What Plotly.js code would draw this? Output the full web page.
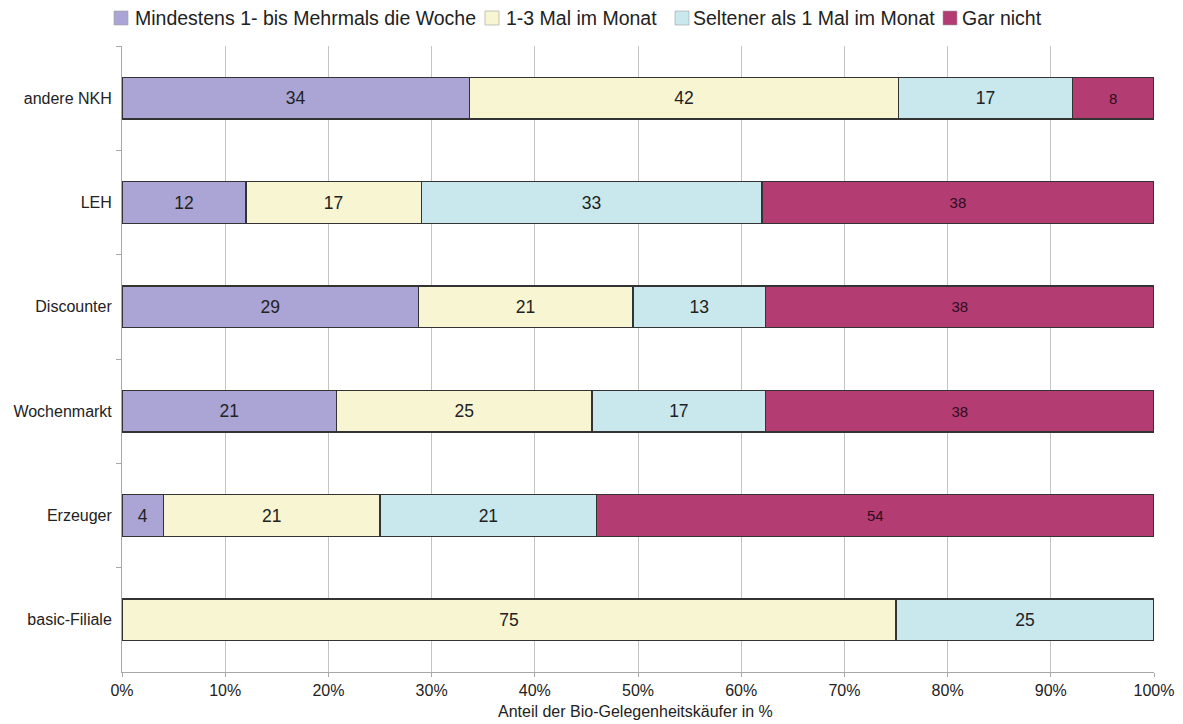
<!DOCTYPE html>
<html>
<head>
<meta charset="utf-8">
<script src="https://cdn.plot.ly/plotly-3.0.1.min.js"></script>
<style>
  html, body { margin: 0; padding: 0; background: #ffffff; }
  #chart { width: 1183px; height: 724px; }
</style>
</head>
<body>
<div id="chart"></div>
<script>
// Einkaufsstätten, von oben nach unten
const categories = ['andere NKH', 'LEH', 'Discounter', 'Wochenmarkt', 'Erzeuger', 'basic-Filiale'];

// Anteile je Häufigkeitsklasse (in %)
const weekly   = [34, 12, 29, 21, 4, null];
const monthly  = [42, 17, 21, 25, 21, 75];
const rarely   = [17, 33, 13, 17, 21, 25];
const never    = [8, 38, 38, 38, 54, null];

const seriesNames = [
  'Mindestens 1- bis Mehrmals die Woche',
  '1-3 Mal im Monat',
  'Seltener als 1 Mal im Monat',
  'Gar nicht'
];
const seriesColors = ['#aaa5d4', '#f8f6d2', '#c8e8ee', '#b33d72'];
const seriesValues = [weekly, monthly, rarely, never];

const xTickVals = [0, 10, 20, 30, 40, 50, 60, 70, 80, 90, 100];
const xTickText = xTickVals.map(v => v + '%');

const FONT = 'Liberation Sans, Arial, Helvetica, sans-serif';

const traces = seriesValues.map((vals, i) => ({
  type: 'bar',
  orientation: 'h',
  name: seriesNames[i],
  y: categories,
  x: vals,
  text: vals.map(v => (v === null ? '' : String(v))),
  texttemplate: '%{text}',
  textposition: 'inside',
  insidetextanchor: 'middle',
  textangle: 0,
  constraintext: 'none',
  insidetextfont: i === 3
    ? { family: FONT, size: 15, color: '#2e0c1c' }
    : { family: FONT, size: 17.5, color: '#222222' },
  marker: { color: seriesColors[i], line: { color: '#333333', width: 1.5 } },
  hoverinfo: 'skip',
  showlegend: false
}));

// Legende als Reihe aus Farbfeld + Beschriftung oberhalb der Zeichenfläche
const plotLeft = 122, plotWidth = 1032, plotBottom = 672, plotHeight = 626;
const px2x = px => (px - plotLeft) / plotWidth;
const px2y = py => (plotBottom - py) / plotHeight;

const legendSwatchLeft = [114, 485, 675, 943];
const legendTextLeft   = [133, 504, 691, 960];
const legendTop = 11, legendSwatchSize = 14, legendMid = 18;

const legendShapes = seriesNames.map((_, i) => ({
  type: 'rect',
  xref: 'paper', yref: 'paper',
  x0: px2x(legendSwatchLeft[i]), x1: px2x(legendSwatchLeft[i] + legendSwatchSize),
  y0: px2y(legendTop + legendSwatchSize), y1: px2y(legendTop),
  fillcolor: seriesColors[i],
  line: { color: '#a0a0a0', width: 0.6 },
  layer: 'above'
}));

const legendLabels = seriesNames.map((name, i) => ({
  text: name,
  xref: 'paper', yref: 'paper',
  x: px2x(legendTextLeft[i]), y: px2y(legendMid),
  xanchor: 'left', yanchor: 'middle',
  showarrow: false,
  font: { family: FONT, size: 19.5, color: '#222222' }
}));

const layout = {
  width: 1183,
  height: 724,
  margin: { l: 122, r: 29, t: 46, b: 52, autoexpand: false },
  paper_bgcolor: '#ffffff',
  plot_bgcolor: '#ffffff',
  barmode: 'stack',
  barnorm: 'percent',
  bargap: 0.6,
  font: { family: FONT, size: 16, color: '#222222' },
  showlegend: false,
  xaxis: {
    range: [0, 100],
    tickvals: xTickVals,
    ticktext: xTickText,
    showgrid: true,
    gridcolor: '#c4c4c4',
    gridwidth: 1,
    zeroline: false,
    showline: true,
    linecolor: '#a8a8a8',
    ticks: 'outside',
    ticklen: 4,
    tickcolor: '#a8a8a8',
    tickfont: { family: FONT, size: 16, color: '#222222' },
    fixedrange: true
  },
  yaxis: {
    type: 'category',
    categoryorder: 'array',
    categoryarray: categories,
    autorange: 'reversed',
    showgrid: false,
    zeroline: false,
    showline: true,
    linecolor: '#a8a8a8',
    ticks: 'outside',
    tickson: 'boundaries',
    ticklen: 5,
    tickcolor: '#a8a8a8',
    ticklabelstandoff: 6,
    tickfont: { family: FONT, size: 16, color: '#222222' },
    fixedrange: true
  },
  shapes: legendShapes,
  annotations: legendLabels.concat([{
    text: 'Anteil der Bio-Gelegenheitskäufer in %',
    xref: 'paper', yref: 'paper',
    x: px2x(635), y: px2y(711),
    xanchor: 'center', yanchor: 'middle',
    showarrow: false,
    font: { family: FONT, size: 16, color: '#222222' }
  }])
};

Plotly.newPlot('chart', traces, layout, { displayModeBar: false, staticPlot: true });
</script>
</body>
</html>
